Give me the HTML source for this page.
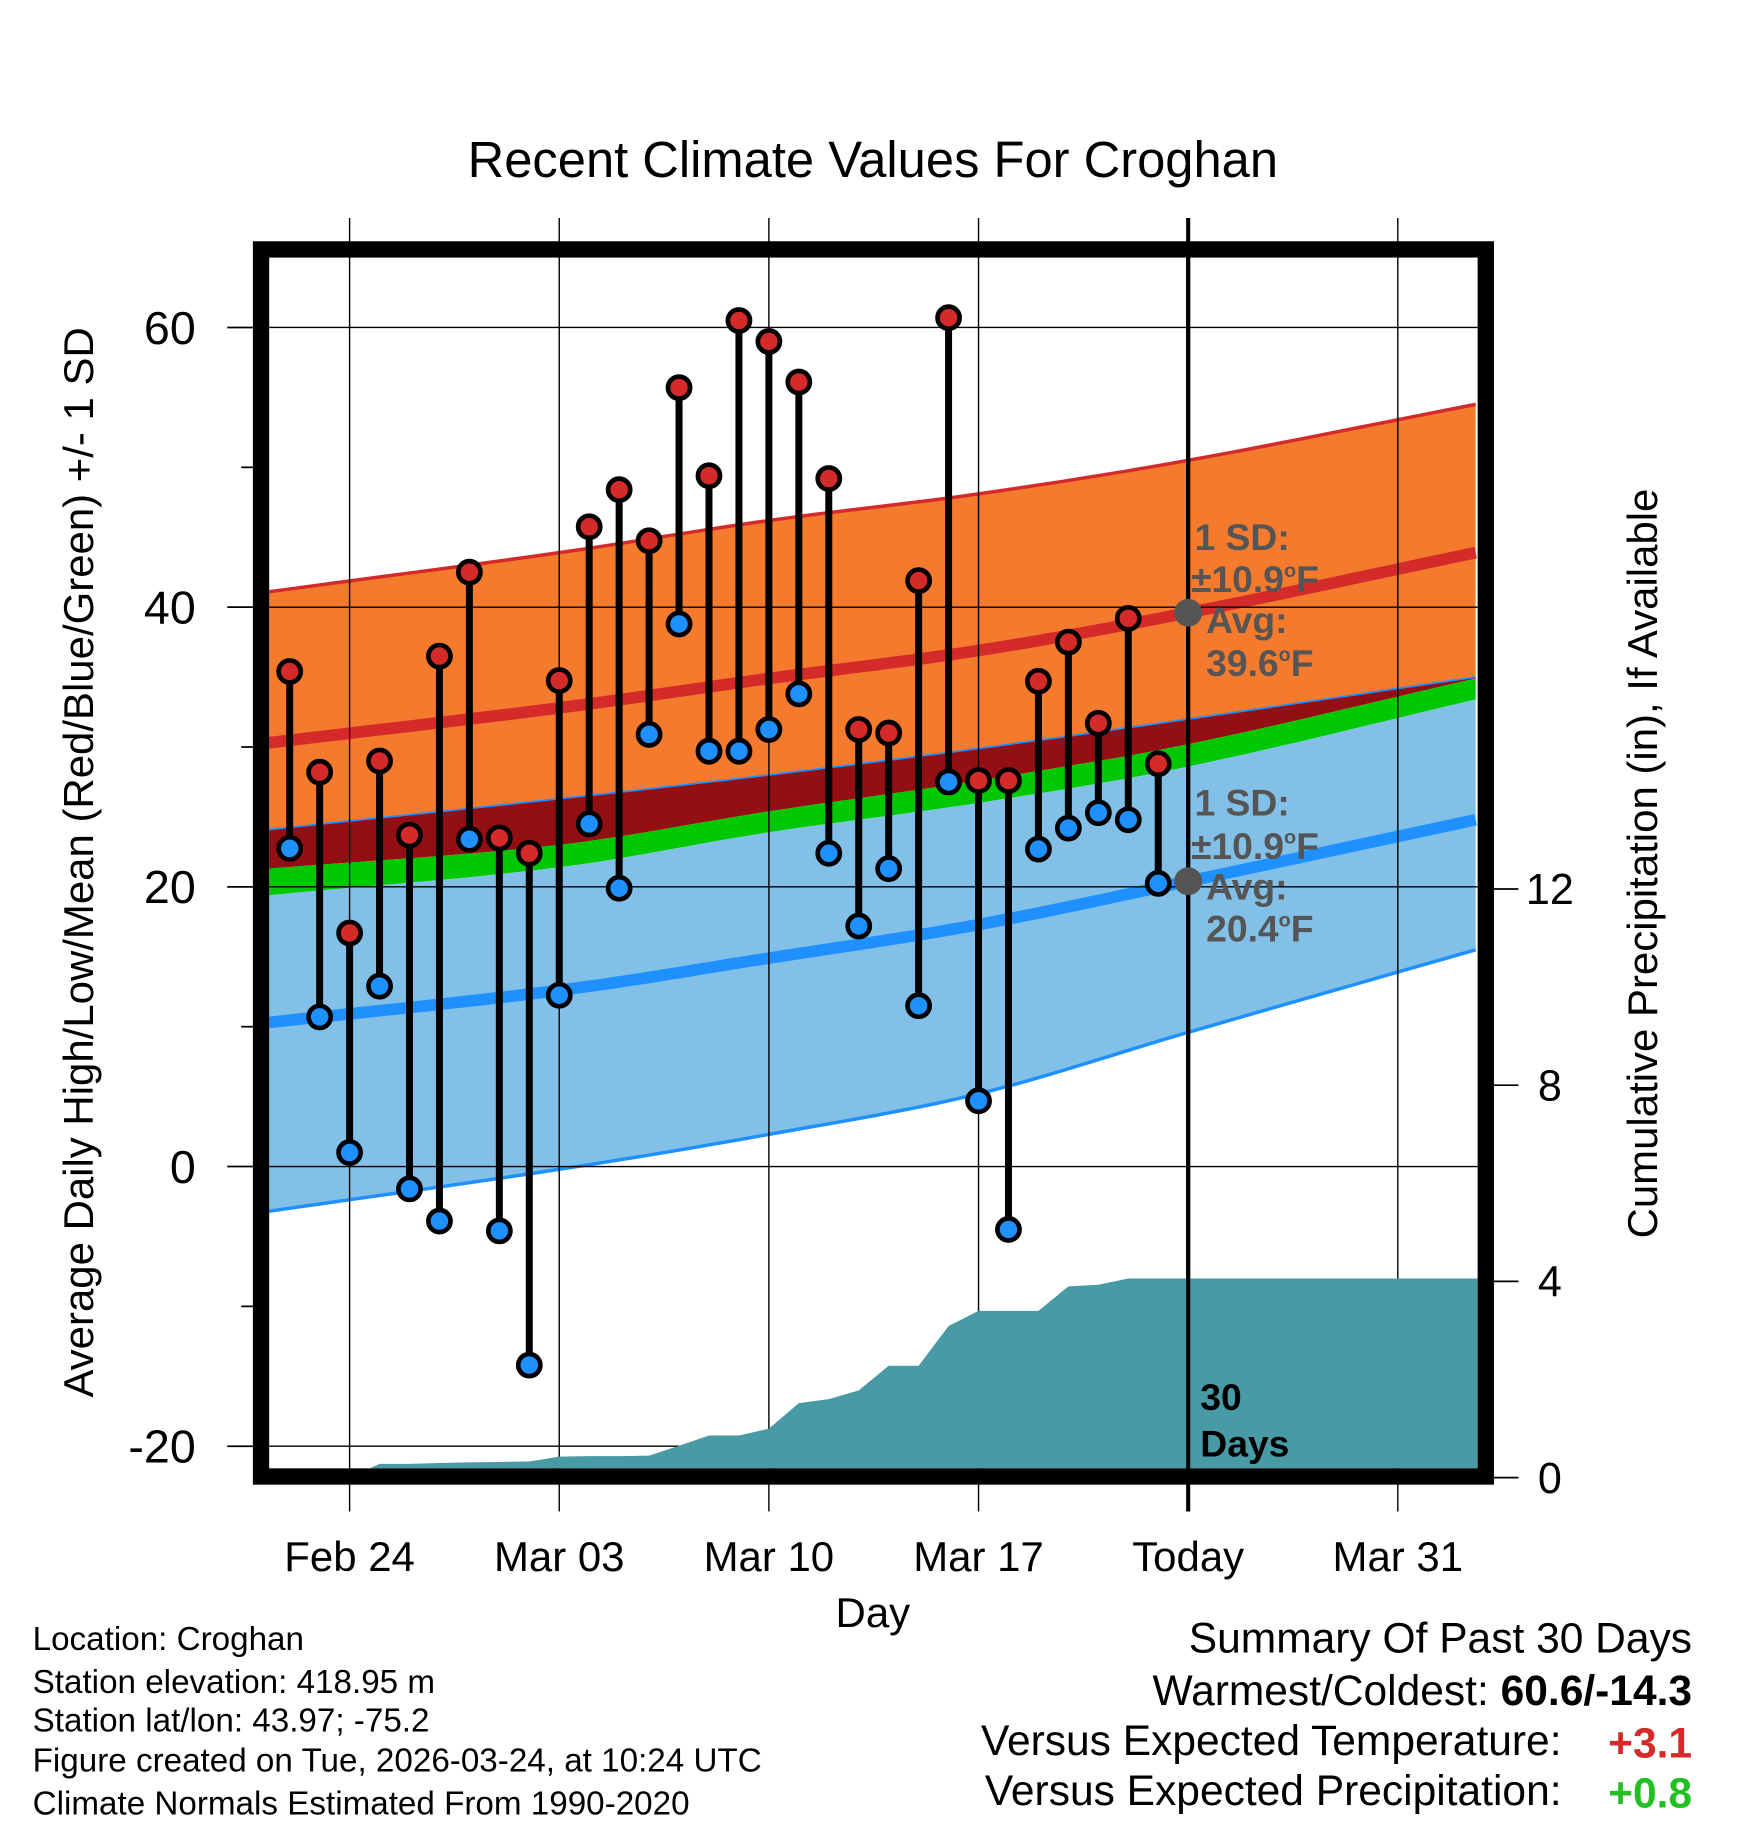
<!DOCTYPE html>
<html><head><meta charset="utf-8">
<style>
html,body{margin:0;padding:0;background:#fff}
svg{display:block;font-family:"Liberation Sans",Arial,sans-serif}
</style></head>
<body>
<svg id="chart" width="1748" height="1828" viewBox="0 0 1500 1568.6" xmlns="http://www.w3.org/2000/svg">
<rect x="0" y="0" width="1500" height="1568.6" fill="#fff"/>
<defs><clipPath id="plotclip"><rect x="231" y="221" width="1037" height="1039"/></clipPath></defs>
<g id="bands" clip-path="url(#plotclip)"></g>
<g id="grid"></g>
<g id="precip" clip-path="url(#plotclip)"></g>
<g id="marks"></g>
<rect x="224" y="214" width="1051" height="1053" fill="none" stroke="#000" stroke-width="14"/>
<g id="axes"></g>
<text x="749" y="152" font-size="43.5" text-anchor="middle">Recent Climate Values For Croghan</text>
<text transform="translate(80,740) rotate(-90)" font-size="36" text-anchor="middle">Average Daily High/Low/Mean (Red/Blue/Green) +/- 1 SD</text>
<text transform="translate(1422,741) rotate(-90)" font-size="36" text-anchor="middle">Cumulative Precipitation (in), If Available</text>
<text x="749" y="1396" font-size="36" text-anchor="middle">Day</text>
<g fill="#555" font-weight="bold" font-size="32">
<text x="1025" y="472">1 SD:</text>
<text x="1022" y="508">±10.9<tspan font-size="17" dy="-13">o</tspan><tspan dy="13">F</tspan></text>
<text x="1035" y="543">Avg:</text>
<text x="1035" y="580">39.6<tspan font-size="17" dy="-13">o</tspan><tspan dy="13">F</tspan></text>
</g>
<g fill="#555" font-weight="bold" font-size="32">
<text x="1025" y="700">1 SD:</text>
<text x="1022" y="737">±10.9<tspan font-size="17" dy="-13">o</tspan><tspan dy="13">F</tspan></text>
<text x="1035" y="772">Avg:</text>
<text x="1035" y="808">20.4<tspan font-size="17" dy="-13">o</tspan><tspan dy="13">F</tspan></text>
</g>
<g font-weight="bold" font-size="32">
<text x="1030" y="1210">30</text><text x="1030" y="1250">Days</text>
</g>
<g font-size="28.5">
<text x="28" y="1416">Location: Croghan</text>
<text x="28" y="1453">Station elevation: 418.95 m</text>
<text x="28" y="1486">Station lat/lon: 43.97; -75.2</text>
<text x="28" y="1520">Figure created on Tue, 2026-03-24, at 10:24 UTC</text>
<text x="28" y="1557">Climate Normals Estimated From 1990-2020</text>
</g>
<g font-size="36.5">
<text x="1452" y="1418" text-anchor="end">Summary Of Past 30 Days</text>
<text x="1452" y="1463" text-anchor="end">Warmest/Coldest: <tspan font-weight="bold">60.6/-14.3</tspan></text>
<text x="1340" y="1506" text-anchor="end">Versus Expected Temperature:</text>
<text x="1452" y="1508" text-anchor="end" fill="#d42a2a" font-weight="bold">+3.1</text>
<text x="1340" y="1549" text-anchor="end">Versus Expected Precipitation:</text>
<text x="1452" y="1551" text-anchor="end" fill="#22c022" font-weight="bold">+0.8</text>
</g>
</svg>
<script>
// data
const days = [-2,-1,0,1,2,3,4,5,6,7,8,9,10,11,12,13,14,15,16,17,18,19,20,21,22,23,24,25,26,27];
const highs = [35.4,28.2,16.7,29.0,23.7,36.5,42.5,23.5,22.4,34.75,45.75,48.4,44.75,55.7,49.4,60.5,59.0,56.1,49.2,31.25,31.0,41.9,60.7,27.6,27.6,34.7,37.5,31.7,39.2,28.8];
const lows = [22.75,10.7,1.0,12.9,-1.6,-3.9,23.4,-4.6,-14.2,12.25,24.5,19.9,30.9,38.8,29.7,29.7,31.25,33.8,22.4,17.2,21.3,11.5,27.5,4.7,-4.5,22.7,24.2,25.3,24.8,20.25];
const precip = [0,0,0,0.28,0.28,0.3,0.31,0.32,0.33,0.43,0.44,0.44,0.45,0.65,0.86,0.86,1.0,1.52,1.6,1.78,2.28,2.28,3.09,3.4,3.4,3.4,3.9,3.93,4.06,4.06];
const bandDays = [-2.7,7,14,21,28,37.6];
const highUpper = [41.1,43.9,46.2,48.1,50.5,54.5];
const highMean = [30.3,32.8,34.9,36.9,39.6,43.9];
const highLower = [24.1,26.3,28.0,29.9,32.0,35.0];
const meanUpper = [21.3,23.0,25.4,27.6,30.2,34.9];
const lowUpper = [19.4,21.4,23.9,26.0,28.6,33.4];
const lowMean = [10.3,12.6,14.9,17.3,20.4,24.8];
const lowLower = [-3.2,-0.2,2.3,5.2,9.6,15.5];
const yTicks = [60,40,20,0,-20];
const yMinor = [50,30,10,-10];
const xTickDays = [0,7,14,21,28,35];
const xTickLabels = ["Feb 24","Mar 03","Mar 10","Mar 17","Today","Mar 31"];
const pTicks = [0,4,8,12];
const todayDay = 28, todayHigh = 39.6, todayLow = 20.4;

const NS="http://www.w3.org/2000/svg";
const X = d => 300 + d*25.7;
const Y = v => 1001 - 12*v;
const P = p => 1268 - 42.1*p;
function mk(tag, attrs, parent){const e=document.createElementNS(NS,tag);for(const k in attrs)e.setAttribute(k,attrs[k]);parent.appendChild(e);return e;}
const bands=document.getElementById('bands'), grid=document.getElementById('grid'), pr=document.getElementById('precip'), marks=document.getElementById('marks'), axes=document.getElementById('axes');
// smooth interpolation (monotone-ish cubic through the band points)
function sample(arr){
  const out=[];const n=bandDays.length;
  for(let i=0;i<n-1;i++){
    const p0=arr[Math.max(i-1,0)],p1=arr[i],p2=arr[i+1],p3=arr[Math.min(i+2,n-1)];
    const d0=bandDays[Math.max(i-1,0)],d1=bandDays[i],d2=bandDays[i+1],d3=bandDays[Math.min(i+2,n-1)];
    const m1=(p2-p0)/((d2-d0)||1)*(d2-d1), m2=(p3-p1)/((d3-d1)||1)*(d2-d1);
    for(let k=0;k<10;k++){const t=k/10,t2=t*t,t3=t2*t;
      const v=(2*t3-3*t2+1)*p1+(t3-2*t2+t)*m1+(-2*t3+3*t2)*p2+(t3-t2)*m2;
      out.push([d1+(d2-d1)*t,v]);}
  }
  out.push([bandDays[n-1],arr[n-1]]);
  return out;
}
function pts(arr){return sample(arr).map(p=>X(p[0]).toFixed(1)+','+Y(p[1]).toFixed(1));}
function band(top,bot,fill,name){
  const p=pts(top).concat(pts(bot).reverse()).join(' ');
  const el=mk('polygon',{points:p,fill:fill},bands);
  
  
}
function line(arr,stroke,w,name){
  const el=mk('polyline',{points:pts(arr).join(' '),fill:'none',stroke:stroke,'stroke-width':w},bands);
  
  
}
band(highUpper,highLower,'#f47a2e','high-sd-band');
band(highLower,meanUpper,'#940f14','overlap-band');
band(meanUpper,lowUpper,'#00c800','mean-band');
band(lowUpper,lowLower,'#82c0e8','low-sd-band');
line(highUpper,'#d42a2a',3,'high-upper-line');
line(highLower,'#1e90ff',1.5,'high-lower-line');
line(lowLower,'#1e90ff',3,'low-lower-line');
line(highMean,'#d42a2a',10,'high-mean-line');
line(lowMean,'#1e90ff',10,'low-mean-line');

yTicks.forEach(v=>{
  const g=mk('line',{x1:231,x2:1268,y1:Y(v),y2:Y(v),stroke:'#000','stroke-width':1.2},grid);
  
  
});
xTickDays.forEach((d,i)=>{
  const g=mk('line',{x1:X(d),x2:X(d),y1:187,y2:1297,stroke:'#000','stroke-width':d===todayDay?3.5:1.2},grid);
  
  
});

let pp=[X(-2.7)+','+P(0)];
days.forEach((d,i)=>pp.push(X(d).toFixed(1)+','+P(precip[i]).toFixed(1)));
pp.push('1268,'+P(precip[precip.length-1]).toFixed(1));
pp.push('1268,1268');
pp.push(X(-2.7)+',1268');
const pa=mk('polygon',{points:pp.join(' '),fill:'#489aa4'},pr);


const tl=mk('line',{x1:X(todayDay),x2:X(todayDay),y1:221,y2:1260,stroke:'#000','stroke-width':3.5},pr);



days.forEach((d,i)=>{
  const s=mk('line',{x1:X(d),x2:X(d),y1:Y(highs[i]),y2:Y(lows[i]),stroke:'#000','stroke-width':6},marks);
  
  
});
days.forEach((d,i)=>{
  const h=mk('circle',{cx:X(d),cy:Y(highs[i]),r:9.5,fill:'#d42a2a',stroke:'#000','stroke-width':4},marks);
  
  
  const l=mk('circle',{cx:X(d),cy:Y(lows[i]),r:9.5,fill:'#1e90ff',stroke:'#000','stroke-width':4},marks);
  
  
});
[todayHigh,todayLow].forEach(v=>{
  const c=mk('circle',{cx:X(todayDay),cy:Y(v),r:12,fill:'#555'},marks);
  
  
});

yTicks.forEach(v=>{
  const t=mk('line',{x1:195,x2:217,y1:Y(v),y2:Y(v),stroke:'#000','stroke-width':1.5},axes);
  
  
  const l=mk('text',{x:168,y:Y(v)+14,'font-size':40,'text-anchor':'end'},axes);
  l.textContent=String(v);
  
  
});
yMinor.forEach(v=>{
  const t=mk('line',{x1:207,x2:217,y1:Y(v),y2:Y(v),stroke:'#000','stroke-width':1.5},axes);
  
  
});
xTickDays.forEach((d,i)=>{
  const l=mk('text',{x:X(d),y:1348,'font-size':36,'text-anchor':'middle'},axes);
  l.textContent=xTickLabels[i];
  
  
});
pTicks.forEach(v=>{
  const t=mk('line',{x1:1282,x2:1303,y1:P(v),y2:P(v),stroke:'#000','stroke-width':1.5},axes);
  
  
  const l=mk('text',{x:1330,y:P(v)+13,'font-size':37,'text-anchor':'middle'},axes);
  l.textContent=String(v);
  
  
});
</script>
</body></html>
